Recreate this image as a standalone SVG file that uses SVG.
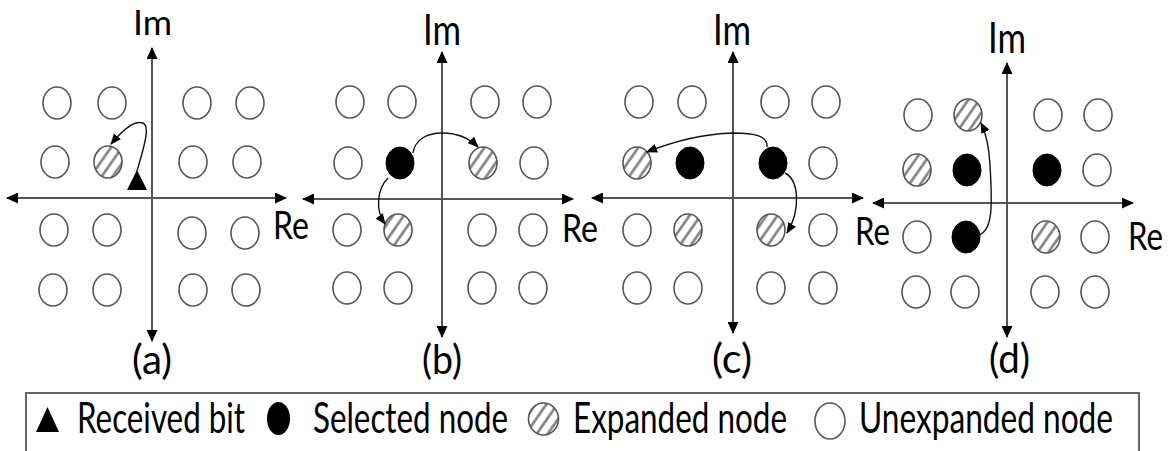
<svg xmlns="http://www.w3.org/2000/svg" width="1173" height="451" viewBox="0 0 1173 451">
<defs>
<marker id="ax" viewBox="0 0 12 11" refX="11" refY="5.5" markerWidth="12" markerHeight="11" markerUnits="userSpaceOnUse" orient="auto-start-reverse"><path d="M0,0 L12,5.5 L0,11 z" fill="#000"/></marker>
<marker id="ar" viewBox="0 0 11 9" refX="10" refY="4.5" markerWidth="11" markerHeight="9" markerUnits="userSpaceOnUse" orient="auto"><path d="M0,0 L11,4.5 L0,9 z" fill="#000"/></marker>
<pattern id="hatch" patternUnits="userSpaceOnUse" width="9" height="9" patternTransform="rotate(35)"><rect width="9" height="9" fill="#fff"/><line x1="4.5" y1="0" x2="4.5" y2="9" stroke="#808080" stroke-width="2.6"/></pattern>
</defs>
<style>
.u{fill:#fff;stroke:#555;stroke-width:1.6}
.h{fill:url(#hatch);stroke:#555;stroke-width:1.6}
.s{fill:#000;stroke:#000;stroke-width:1}
.axis{stroke:#555;stroke-width:2;fill:none;marker-start:url(#ax);marker-end:url(#ax)}
.c{stroke:#111;stroke-width:1.4;fill:none;marker-end:url(#ar)}
text{font-family:Lato,"Open Sans","Liberation Sans",sans-serif;font-size:40px;fill:#000}
.im{font-size:42px}
.re{font-size:39px}
.lg{font-size:42px}
</style>
<rect width="1173" height="451" fill="#fff"/>

<g id="panel-a">
<line class="axis" x1="152" y1="48" x2="152" y2="341"/>
<line class="axis" x1="7" y1="198" x2="286" y2="198"/>
<ellipse class="u" cx="57" cy="103" rx="14" ry="16"/>
<ellipse class="u" cx="112" cy="103" rx="14" ry="16"/>
<ellipse class="u" cx="197" cy="103" rx="14" ry="16"/>
<ellipse class="u" cx="250" cy="103" rx="14" ry="16"/>
<ellipse class="u" cx="55" cy="162" rx="14" ry="16"/>
<ellipse class="h" cx="108" cy="162" rx="14" ry="16"/>
<ellipse class="u" cx="193" cy="162" rx="14" ry="16"/>
<ellipse class="u" cx="247" cy="162" rx="14" ry="16"/>
<ellipse class="u" cx="54" cy="230" rx="14" ry="16"/>
<ellipse class="u" cx="107" cy="230" rx="14" ry="16"/>
<ellipse class="u" cx="192" cy="233" rx="14" ry="16"/>
<ellipse class="u" cx="245" cy="233" rx="14" ry="16"/>
<ellipse class="u" cx="53" cy="290" rx="14" ry="16"/>
<ellipse class="u" cx="107" cy="290" rx="14" ry="16"/>
<ellipse class="u" cx="193" cy="290" rx="14" ry="16"/>
<ellipse class="u" cx="246" cy="290" rx="14" ry="16"/>
<polygon points="127,190 147,190 137,170" fill="#000"/>
<text x="133" y="35" style="font-size:35px" textLength="39" lengthAdjust="spacingAndGlyphs">Im</text>
<text class="re" x="273" y="239" textLength="36" lengthAdjust="spacingAndGlyphs">Re</text>
<text x="132" y="374" textLength="40" lengthAdjust="spacingAndGlyphs">(a)</text>
</g>

<g id="panel-b">
<line class="axis" x1="442" y1="52" x2="442" y2="337"/>
<line class="axis" x1="303" y1="199" x2="573" y2="199"/>
<ellipse class="u" cx="350" cy="102" rx="14" ry="16"/>
<ellipse class="u" cx="402" cy="102" rx="14" ry="16"/>
<ellipse class="u" cx="485" cy="102" rx="14" ry="16"/>
<ellipse class="u" cx="537" cy="102" rx="14" ry="16"/>
<ellipse class="u" cx="348" cy="163" rx="14" ry="16"/>
<ellipse class="s" cx="400" cy="163" rx="14" ry="16"/>
<ellipse class="h" cx="483" cy="163" rx="14" ry="16"/>
<ellipse class="u" cx="534" cy="163" rx="14" ry="16"/>
<ellipse class="u" cx="347" cy="230" rx="14" ry="16"/>
<ellipse class="h" cx="398" cy="230" rx="14" ry="16"/>
<ellipse class="u" cx="482" cy="230" rx="14" ry="16"/>
<ellipse class="u" cx="533" cy="230" rx="14" ry="16"/>
<ellipse class="u" cx="347" cy="288" rx="14" ry="16"/>
<ellipse class="u" cx="398" cy="288" rx="14" ry="16"/>
<ellipse class="u" cx="482" cy="288" rx="14" ry="16"/>
<ellipse class="u" cx="533" cy="288" rx="14" ry="16"/>
<text class="im" x="423" y="45" textLength="38" lengthAdjust="spacingAndGlyphs">Im</text>
<text class="re" x="562" y="242" textLength="36" lengthAdjust="spacingAndGlyphs">Re</text>
<text x="422" y="374" textLength="40" lengthAdjust="spacingAndGlyphs">(b)</text>
</g>

<g id="panel-c">
<line class="axis" x1="733" y1="52" x2="733" y2="333"/>
<line class="axis" x1="592" y1="198" x2="863" y2="198"/>
<ellipse class="u" cx="639" cy="102" rx="14" ry="16"/>
<ellipse class="u" cx="692" cy="102" rx="14" ry="16"/>
<ellipse class="u" cx="775" cy="102" rx="14" ry="16"/>
<ellipse class="u" cx="826" cy="102" rx="14" ry="16"/>
<ellipse class="h" cx="637" cy="163" rx="14" ry="16"/>
<ellipse class="s" cx="690" cy="163" rx="14" ry="16"/>
<ellipse class="s" cx="773" cy="163" rx="14" ry="16"/>
<ellipse class="u" cx="823" cy="163" rx="14" ry="16"/>
<ellipse class="u" cx="637" cy="230" rx="14" ry="16"/>
<ellipse class="h" cx="688" cy="230" rx="14" ry="16"/>
<ellipse class="h" cx="771" cy="230" rx="14" ry="16"/>
<ellipse class="u" cx="823" cy="230" rx="14" ry="16"/>
<ellipse class="u" cx="637" cy="288" rx="14" ry="16"/>
<ellipse class="u" cx="688" cy="288" rx="14" ry="16"/>
<ellipse class="u" cx="771" cy="288" rx="14" ry="16"/>
<ellipse class="u" cx="823" cy="288" rx="14" ry="16"/>
<text class="im" x="713" y="45" textLength="38" lengthAdjust="spacingAndGlyphs">Im</text>
<text class="re" x="855" y="245" textLength="35" lengthAdjust="spacingAndGlyphs">Re</text>
<text x="712" y="373" textLength="40" lengthAdjust="spacingAndGlyphs">(c)</text>
</g>

<g id="panel-d">
<line class="axis" x1="1007" y1="63" x2="1007" y2="337"/>
<line class="axis" x1="873" y1="203" x2="1133" y2="203"/>
<ellipse class="u" cx="918" cy="115" rx="14" ry="16"/>
<ellipse class="h" cx="968" cy="115" rx="14" ry="16"/>
<ellipse class="u" cx="1048" cy="115" rx="14" ry="16"/>
<ellipse class="u" cx="1098" cy="115" rx="14" ry="16"/>
<ellipse class="h" cx="917" cy="170" rx="14" ry="16"/>
<ellipse class="s" cx="967" cy="170" rx="14" ry="16"/>
<ellipse class="s" cx="1047" cy="170" rx="14" ry="16"/>
<ellipse class="u" cx="1097" cy="170" rx="14" ry="16"/>
<ellipse class="u" cx="917" cy="237" rx="14" ry="16"/>
<ellipse class="s" cx="966" cy="237" rx="14" ry="16"/>
<ellipse class="h" cx="1046" cy="237" rx="14" ry="16"/>
<ellipse class="u" cx="1095" cy="237" rx="14" ry="16"/>
<ellipse class="u" cx="916" cy="292" rx="14" ry="16"/>
<ellipse class="u" cx="965" cy="292" rx="14" ry="16"/>
<ellipse class="u" cx="1045" cy="292" rx="14" ry="16"/>
<ellipse class="u" cx="1095" cy="292" rx="14" ry="16"/>
<text class="im" x="988" y="53" textLength="38" lengthAdjust="spacingAndGlyphs">Im</text>
<text class="re" x="1128" y="250" textLength="35" lengthAdjust="spacingAndGlyphs">Re</text>
<text x="989" y="373" textLength="41" lengthAdjust="spacingAndGlyphs">(d)</text>
</g>

<g id="connectors">
<path class="c" d="M137,171 C143,150 151,126 143,123 C134,120 121,132 111,144"/>
<path class="c" d="M413,153 C415,139 428,133 442,133 C458,133 470,139 478,147"/>
<path class="c" d="M388,178 C377,189 375,210 385,224"/>
<path class="c" d="M767,147 C768,136 755,133 733,133 C700,134 672,142 647,152"/>
<path class="c" d="M785,173 C799,180 801,210 787,233"/>
<path class="c" d="M978,235 C994,232 992,200 990,165 C989,146 986,133 981,123"/>
</g>

<g id="legend">
<path d="M26,452 L26,393 L1139,393 L1139,452" fill="none" stroke="#666" stroke-width="2"/>
<polygon points="36,432 59,432 47.5,407" fill="#000"/>
<text class="lg" x="77" y="433" textLength="168" lengthAdjust="spacingAndGlyphs">Received bit</text>
<ellipse cx="278.5" cy="418.5" rx="11.5" ry="16.5" fill="#000"/>
<text class="lg" x="313" y="433" textLength="195" lengthAdjust="spacingAndGlyphs">Selected node</text>
<ellipse class="h" cx="543.5" cy="419" rx="15" ry="16"/>
<text class="lg" x="573" y="433" textLength="214" lengthAdjust="spacingAndGlyphs">Expanded node</text>
<ellipse class="u" cx="830" cy="421" rx="15" ry="18"/>
<text class="lg" x="859" y="433" textLength="254" lengthAdjust="spacingAndGlyphs">Unexpanded node</text>
</g>
</svg>
